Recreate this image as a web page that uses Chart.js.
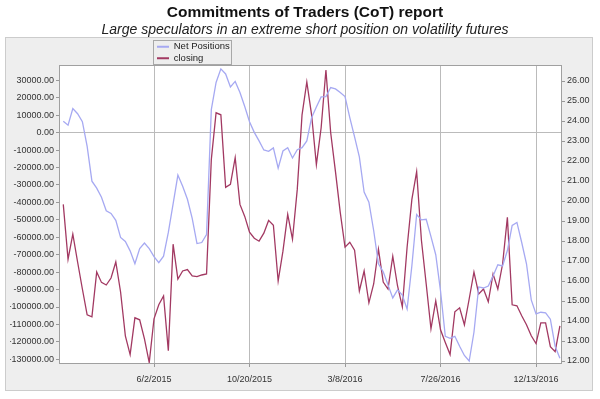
<!DOCTYPE html>
<html><head><meta charset="utf-8">
<script src="https://cdn.jsdelivr.net/npm/chart.js@4.4.0/dist/chart.umd.min.js"></script>
<style>html,body{margin:0;padding:0;background:#fff;}canvas{display:block;}</style>
</head><body>
<canvas id="c" width="600" height="399"></canvas>
<script>
const dates = [
 '1/20/2015','1/27/2015','2/3/2015','2/10/2015','2/17/2015','2/24/2015','3/3/2015','3/10/2015','3/17/2015','3/24/2015',
 '3/31/2015','4/7/2015','4/14/2015','4/21/2015','4/28/2015','5/5/2015','5/12/2015','5/19/2015','5/26/2015','6/2/2015',
 '6/9/2015','6/16/2015','6/23/2015','6/30/2015','7/7/2015','7/14/2015','7/21/2015','7/28/2015','8/4/2015','8/11/2015',
 '8/18/2015','8/25/2015','9/1/2015','9/8/2015','9/15/2015','9/22/2015','9/29/2015','10/6/2015','10/13/2015','10/20/2015',
 '10/27/2015','11/3/2015','11/10/2015','11/17/2015','11/24/2015','12/1/2015','12/8/2015','12/15/2015','12/22/2015','12/29/2015',
 '1/5/2016','1/12/2016','1/19/2016','1/26/2016','2/2/2016','2/9/2016','2/16/2016','2/23/2016','3/1/2016','3/8/2016',
 '3/15/2016','3/22/2016','3/29/2016','4/5/2016','4/12/2016','4/19/2016','4/26/2016','5/3/2016','5/10/2016','5/17/2016',
 '5/24/2016','5/31/2016','6/7/2016','6/14/2016','6/21/2016','6/28/2016','7/5/2016','7/12/2016','7/19/2016','7/26/2016',
 '8/2/2016','8/9/2016','8/16/2016','8/23/2016','8/30/2016','9/6/2016','9/13/2016','9/20/2016','9/27/2016','10/4/2016',
 '10/11/2016','10/18/2016','10/25/2016','11/1/2016','11/8/2016','11/15/2016','11/22/2016','11/29/2016','12/6/2016','12/13/2016',
 '12/20/2016','12/27/2016','1/3/2017','1/10/2017','1/17/2017'
];
const netPositions = [
 6500,4300,13800,10900,6300,-7800,-27800,-31800,-37000,-44800,
 -46300,-50300,-60100,-62400,-67800,-75200,-66500,-63300,-66500,-71100,
 -74600,-70800,-57200,-40800,-24300,-30700,-38200,-49200,-63600,-63000,
 -58400,13200,28800,36600,33700,26200,29400,23100,15000,6300,
 200,-4700,-9900,-10700,-8700,-20300,-10500,-8600,-14500,-9800,
 -8600,-4700,8600,14700,20500,20700,25900,25100,23100,20700,
 8600,-2400,-13900,-34100,-39900,-56100,-75200,-79800,-87300,-94800,
 -90200,-93100,-101200,-76300,-46900,-50000,-49700,-59600,-70000,-90800,
 -116800,-118000,-116800,-122500,-127800,-131000,-114500,-88500,-89100,-88000,
 -82200,-75800,-76400,-67600,-53200,-51500,-63000,-75200,-95900,-104000,
 -103000,-103300,-107000,-122500,-129400
];
const closing = [
 19.83,17.09,18.34,16.95,15.60,14.31,14.21,16.45,15.93,15.80,
 16.15,16.95,15.45,13.26,12.32,14.16,14.06,13.11,11.92,14.11,
 14.81,15.25,12.52,17.84,16.10,16.50,16.57,16.25,16.22,16.30,
 16.35,22.07,24.41,24.31,20.68,20.83,22.17,19.83,19.23,18.44,
 18.14,17.99,18.39,19.03,18.79,16.00,17.49,19.33,18.09,20.58,
 24.31,25.95,24.31,21.82,23.66,26.55,23.41,21.47,19.43,17.69,
 17.94,17.54,15.50,16.50,14.91,15.85,17.59,15.95,15.60,17.24,
 15.75,14.71,17.69,20.08,21.47,18.04,15.85,13.61,15.00,13.56,
 12.92,12.32,14.46,14.66,13.81,15.10,16.45,15.35,15.60,14.96,
 16.35,15.60,16.85,19.18,14.81,14.76,14.26,13.81,13.26,12.87,
 13.91,13.91,12.72,12.47,13.76
];
const xTickLabels = ['6/2/2015','10/20/2015','3/8/2016','7/26/2016','12/13/2016'];
const leftTicks = [30000,20000,10000,0,-10000,-20000,-30000,-40000,-50000,-60000,-70000,-80000,-90000,-100000,-110000,-120000,-130000];
const rightTicks = [12,13,14,15,16,17,18,19,20,21,22,23,24,25,26];
const seriesNames = ['Net Positions','closing'];
const titleText = 'Commitments of Traders (CoT) report';
const subtitleText = 'Large speculators in an extreme short position on volatility futures';

function toDay(s){const p=s.split('/').map(Number);return Date.UTC(p[2],p[0]-1,p[1])/86400000;}
const xTickValues = xTickLabels.map(toDay);
const labelByDay = {}; xTickLabels.forEach(l=>{labelByDay[toDay(l)]=l;});
const netData = dates.map((d,i)=>({x:toDay(d),y:netPositions[i]}));
const closeData = dates.map((d,i)=>({x:toDay(d),y:closing[i]}));

const BLUE='#a6a9f2', RED='#a23962';
const FONT='"Liberation Sans", Arial, sans-serif';
const tickFont={family:FONT,size:9};

const frame = {
  id:'frame',
  beforeDraw(chart){
    const ctx=chart.ctx, a=chart.chartArea;
    ctx.save();
    ctx.fillStyle='#ffffff'; ctx.fillRect(0,0,chart.width,chart.height);
    ctx.fillStyle='#eeeeee'; ctx.fillRect(5,37,588,354);
    ctx.strokeStyle='#cccccc'; ctx.lineWidth=1; ctx.strokeRect(5.5,37.5,587,353);
    ctx.fillStyle='#ffffff'; ctx.fillRect(a.left,a.top,a.right-a.left,a.bottom-a.top);
    ctx.fillStyle='#eeeeee'; ctx.fillRect(153,40,79,25);
    ctx.strokeStyle='#a8a8a8'; ctx.strokeRect(153.5,40.5,78,24);
    ctx.restore();
  },
  afterDraw(chart){
    const ctx=chart.ctx, a=chart.chartArea;
    ctx.save();
    ctx.strokeStyle='#a0a0a0'; ctx.lineWidth=1;
    ctx.strokeRect(Math.round(a.left)-0.5,Math.round(a.top)-0.5,Math.round(a.right-a.left)+1,Math.round(a.bottom-a.top)+1);
    ctx.restore();
  }
};
const legendPos = {
  id:'legendPos',
  afterLayout(chart){
    const lg=chart.legend; if(!lg) return;
    lg.left=155; lg.top=40; lg.right=232; lg.bottom=72; lg.width=77; lg.height=32;
  }
};

new Chart(document.getElementById('c'),{
  type:'line',
  data:{datasets:[
    {label:seriesNames[0],data:netData,yAxisID:'y',borderColor:BLUE,backgroundColor:BLUE,borderWidth:1.3,pointRadius:0,tension:0},
    {label:seriesNames[1],data:closeData,yAxisID:'y1',borderColor:RED,backgroundColor:RED,borderWidth:1.3,pointRadius:0,tension:0}
  ]},
  options:{
    responsive:false,animation:false,
    layout:{padding:{left:10,right:0,top:0,bottom:0}},
    plugins:{
      title:{display:true,text:titleText,color:'#111',font:{family:FONT,size:15.5,weight:'bold'},padding:{top:3,bottom:0}},
      subtitle:{display:true,text:subtitleText,color:'#222',font:{family:FONT,size:14,style:'italic'},padding:{top:0,bottom:27.6}},
      legend:{display:true,position:'chartArea',align:'start',
        labels:{boxWidth:12,boxHeight:2,padding:2,color:'#222',font:{family:FONT,size:9.5},
          generateLabels(chart){
            return Chart.defaults.plugins.legend.labels.generateLabels(chart).map(l=>Object.assign(l,{lineWidth:0}));
          }}},
      tooltip:{enabled:false}
    },
    scales:{
      x:{type:'linear',min:toDay('6/2/2015')-137.8,max:toDay('12/13/2016')+36.6,
        afterBuildTicks(s){s.ticks=xTickValues.map(v=>({value:v}));},
        afterFit(s){s.height=36;},
        ticks:{callback:v=>labelByDay[v]||'',color:'#333',font:tickFont,padding:7,maxRotation:0,autoSkip:false},
        grid:{color:'#bbbbbb',tickColor:'#999999',tickLength:4,lineWidth:1},
        border:{display:false}},
      y:{position:'left',min:-132120,max:38260,
        afterBuildTicks(s){s.ticks=leftTicks.map(v=>({value:v}));},
        afterFit(s){s.width=50;},
        ticks:{callback:v=>Number(v).toFixed(2),color:'#333',font:tickFont,padding:2,autoSkip:false},
        grid:{color:c=>(c.tick&&c.tick.value===0)?'#bbbbbb':'rgba(0,0,0,0)',tickColor:'#999999',tickLength:4},
        border:{display:false}},
      y1:{position:'right',min:11.9,max:26.75,
        afterBuildTicks(s){s.ticks=rightTicks.map(v=>({value:v}));},
        afterFit(s){s.width=39;},
        ticks:{callback:v=>Number(v).toFixed(2),color:'#333',font:tickFont,padding:2,autoSkip:false},
        grid:{drawOnChartArea:false,tickColor:'#999999',tickLength:4},
        border:{display:false}}
    }
  },
  plugins:[frame,legendPos]
});
</script>
</body></html>
